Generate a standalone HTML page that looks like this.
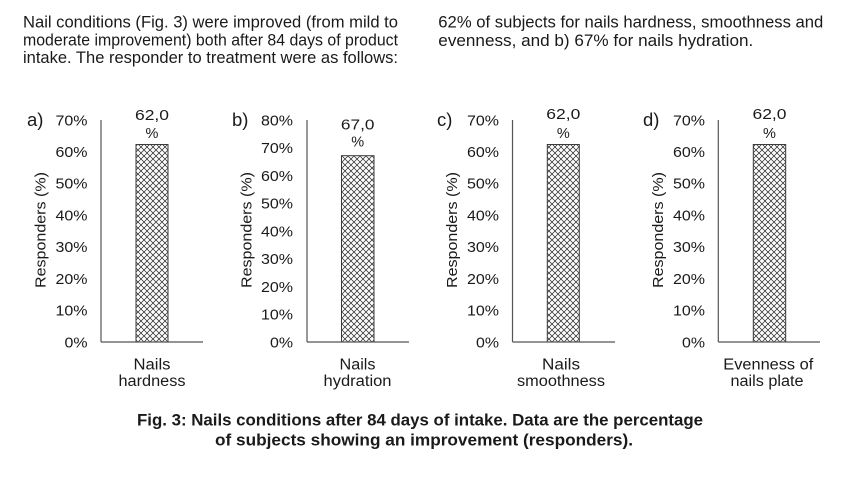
<!DOCTYPE html>
<html>
<head>
<meta charset="utf-8">
<style>
  html, body { margin:0; padding:0; background:#fff; }
  svg { display:block; }
  text { font-family: "Liberation Sans", Arial, sans-serif; fill:#1a1a1a; }
</style>
</head>
<body>
<svg width="853" height="489" viewBox="0 0 853 489" xmlns="http://www.w3.org/2000/svg">
  <defs>
    <pattern id="hatch" patternUnits="userSpaceOnUse" width="6" height="6">
      <rect width="6" height="6" fill="#fff"/>
      <path d="M0,0 L6,6 M-1,5 L1,7 M5,-1 L7,1" stroke="#2a2a2a" stroke-width="0.75"/>
      <path d="M0,6 L6,0 M-1,1 L1,-1 M5,7 L7,5" stroke="#2a2a2a" stroke-width="0.75"/>
    </pattern>
  </defs>
  <rect width="853" height="489" fill="#fff"/>

  <!-- Top paragraph -->
  <g font-size="16.5">
    <text x="23" y="27.5" textLength="375" lengthAdjust="spacingAndGlyphs">Nail conditions (Fig. 3) were improved (from mild to</text>
    <text x="23" y="45.5" textLength="375" lengthAdjust="spacingAndGlyphs">moderate improvement) both after 84 days of product</text>
    <text x="23" y="63" textLength="375" lengthAdjust="spacingAndGlyphs">intake. The responder to treatment were as follows:</text>
    <text x="438.3" y="27.5" textLength="385" lengthAdjust="spacingAndGlyphs">62% of subjects for nails hardness, smoothness and</text>
    <text x="438.3" y="46" textLength="315" lengthAdjust="spacingAndGlyphs">evenness, and b) 67% for nails hydration.</text>
  </g>

  <!-- Chart a -->
  <g>
    <text x="27" y="126" font-size="18.5">a)</text>
    <text transform="translate(45.5,230) rotate(-90)" text-anchor="middle" font-size="15" textLength="116" lengthAdjust="spacingAndGlyphs">Responders (%)</text>
    <g font-size="14.8" text-anchor="end">
      <text x="87.5" y="125.3" textLength="32" lengthAdjust="spacingAndGlyphs">70%</text>
      <text x="87.5" y="157" textLength="32" lengthAdjust="spacingAndGlyphs">60%</text>
      <text x="87.5" y="188.7" textLength="32" lengthAdjust="spacingAndGlyphs">50%</text>
      <text x="87.5" y="220.4" textLength="32" lengthAdjust="spacingAndGlyphs">40%</text>
      <text x="87.5" y="252.2" textLength="32" lengthAdjust="spacingAndGlyphs">30%</text>
      <text x="87.5" y="283.9" textLength="32" lengthAdjust="spacingAndGlyphs">20%</text>
      <text x="87.5" y="315.6" textLength="32" lengthAdjust="spacingAndGlyphs">10%</text>
      <text x="87.5" y="347.3" textLength="23" lengthAdjust="spacingAndGlyphs">0%</text>
    </g>
    <rect x="136" y="144.5" width="32" height="197.5" fill="url(#hatch)" stroke="#3a3a3a" stroke-width="1"/>
    <line x1="101" y1="120" x2="101" y2="342" stroke="#555" stroke-width="1.2"/>
    <line x1="101" y1="342" x2="203" y2="342" stroke="#555" stroke-width="1.2"/>
    <g font-size="14.5" text-anchor="middle">
      <text x="152" y="120" textLength="34" lengthAdjust="spacingAndGlyphs">62,0</text>
      <text x="152" y="138">%</text>
    </g>
    <g font-size="15.5" text-anchor="middle">
      <text x="152" y="369.5" textLength="37" lengthAdjust="spacingAndGlyphs">Nails</text>
      <text x="152" y="386" textLength="67" lengthAdjust="spacingAndGlyphs">hardness</text>
    </g>
  </g>

  <!-- Chart b -->
  <g>
    <text x="232" y="126" font-size="18.5">b)</text>
    <text transform="translate(251.5,230) rotate(-90)" text-anchor="middle" font-size="15" textLength="116" lengthAdjust="spacingAndGlyphs">Responders (%)</text>
    <g font-size="14.8" text-anchor="end">
      <text x="293" y="125.3" textLength="32" lengthAdjust="spacingAndGlyphs">80%</text>
      <text x="293" y="153" textLength="32" lengthAdjust="spacingAndGlyphs">70%</text>
      <text x="293" y="180.8" textLength="32" lengthAdjust="spacingAndGlyphs">60%</text>
      <text x="293" y="208.5" textLength="32" lengthAdjust="spacingAndGlyphs">50%</text>
      <text x="293" y="236.3" textLength="32" lengthAdjust="spacingAndGlyphs">40%</text>
      <text x="293" y="264" textLength="32" lengthAdjust="spacingAndGlyphs">30%</text>
      <text x="293" y="291.8" textLength="32" lengthAdjust="spacingAndGlyphs">20%</text>
      <text x="293" y="319.5" textLength="32" lengthAdjust="spacingAndGlyphs">10%</text>
      <text x="293" y="347.3" textLength="23" lengthAdjust="spacingAndGlyphs">0%</text>
    </g>
    <rect x="341.5" y="155.7" width="32.5" height="186.3" fill="url(#hatch)" stroke="#3a3a3a" stroke-width="1"/>
    <line x1="307" y1="120" x2="307" y2="342" stroke="#555" stroke-width="1.2"/>
    <line x1="307" y1="342" x2="409" y2="342" stroke="#555" stroke-width="1.2"/>
    <g font-size="14.5" text-anchor="middle">
      <text x="357.7" y="129.5" textLength="33.5" lengthAdjust="spacingAndGlyphs">67,0</text>
      <text x="357.7" y="146.5">%</text>
    </g>
    <g font-size="15.5" text-anchor="middle">
      <text x="357.5" y="369.5" textLength="36" lengthAdjust="spacingAndGlyphs">Nails</text>
      <text x="357.5" y="386" textLength="68" lengthAdjust="spacingAndGlyphs">hydration</text>
    </g>
  </g>

  <!-- Chart c -->
  <g>
    <text x="437" y="126" font-size="18.5">c)</text>
    <text transform="translate(457,230) rotate(-90)" text-anchor="middle" font-size="15" textLength="116" lengthAdjust="spacingAndGlyphs">Responders (%)</text>
    <g font-size="14.8" text-anchor="end">
      <text x="499" y="125.3" textLength="32" lengthAdjust="spacingAndGlyphs">70%</text>
      <text x="499" y="157" textLength="32" lengthAdjust="spacingAndGlyphs">60%</text>
      <text x="499" y="188.7" textLength="32" lengthAdjust="spacingAndGlyphs">50%</text>
      <text x="499" y="220.4" textLength="32" lengthAdjust="spacingAndGlyphs">40%</text>
      <text x="499" y="252.2" textLength="32" lengthAdjust="spacingAndGlyphs">30%</text>
      <text x="499" y="283.9" textLength="32" lengthAdjust="spacingAndGlyphs">20%</text>
      <text x="499" y="315.6" textLength="32" lengthAdjust="spacingAndGlyphs">10%</text>
      <text x="499" y="347.3" textLength="23" lengthAdjust="spacingAndGlyphs">0%</text>
    </g>
    <rect x="547.3" y="144.5" width="32" height="197.5" fill="url(#hatch)" stroke="#3a3a3a" stroke-width="1"/>
    <line x1="512.5" y1="120" x2="512.5" y2="342" stroke="#555" stroke-width="1.2"/>
    <line x1="512.5" y1="342" x2="615" y2="342" stroke="#555" stroke-width="1.2"/>
    <g font-size="14.5" text-anchor="middle">
      <text x="563.3" y="119" textLength="34" lengthAdjust="spacingAndGlyphs">62,0</text>
      <text x="563.3" y="138">%</text>
    </g>
    <g font-size="15.5" text-anchor="middle">
      <text x="561" y="369.5" textLength="38" lengthAdjust="spacingAndGlyphs">Nails</text>
      <text x="561" y="386" textLength="88" lengthAdjust="spacingAndGlyphs">smoothness</text>
    </g>
  </g>

  <!-- Chart d -->
  <g>
    <text x="643" y="126" font-size="18.5">d)</text>
    <text transform="translate(663,230) rotate(-90)" text-anchor="middle" font-size="15" textLength="116" lengthAdjust="spacingAndGlyphs">Responders (%)</text>
    <g font-size="14.8" text-anchor="end">
      <text x="705" y="125.3" textLength="32" lengthAdjust="spacingAndGlyphs">70%</text>
      <text x="705" y="157" textLength="32" lengthAdjust="spacingAndGlyphs">60%</text>
      <text x="705" y="188.7" textLength="32" lengthAdjust="spacingAndGlyphs">50%</text>
      <text x="705" y="220.4" textLength="32" lengthAdjust="spacingAndGlyphs">40%</text>
      <text x="705" y="252.2" textLength="32" lengthAdjust="spacingAndGlyphs">30%</text>
      <text x="705" y="283.9" textLength="32" lengthAdjust="spacingAndGlyphs">20%</text>
      <text x="705" y="315.6" textLength="32" lengthAdjust="spacingAndGlyphs">10%</text>
      <text x="705" y="347.3" textLength="23" lengthAdjust="spacingAndGlyphs">0%</text>
    </g>
    <rect x="753.3" y="144.5" width="32.4" height="197.5" fill="url(#hatch)" stroke="#3a3a3a" stroke-width="1"/>
    <line x1="718.3" y1="120" x2="718.3" y2="342" stroke="#555" stroke-width="1.2"/>
    <line x1="718.3" y1="342" x2="820" y2="342" stroke="#555" stroke-width="1.2"/>
    <g font-size="14.5" text-anchor="middle">
      <text x="769.5" y="119" textLength="34" lengthAdjust="spacingAndGlyphs">62,0</text>
      <text x="769.5" y="138">%</text>
    </g>
    <g font-size="15.5" text-anchor="middle">
      <text x="768.3" y="369.5" textLength="90" lengthAdjust="spacingAndGlyphs">Evenness of</text>
      <text x="767" y="386" textLength="73" lengthAdjust="spacingAndGlyphs">nails plate</text>
    </g>
  </g>

  <!-- Caption -->
  <g font-size="16.5" font-weight="bold">
    <text x="137" y="425.5" textLength="566" lengthAdjust="spacingAndGlyphs">Fig. 3: Nails conditions after 84 days of intake. Data are the percentage</text>
    <text x="215" y="445.5" textLength="418" lengthAdjust="spacingAndGlyphs">of subjects showing an improvement (responders).</text>
  </g>
</svg>
</body>
</html>
